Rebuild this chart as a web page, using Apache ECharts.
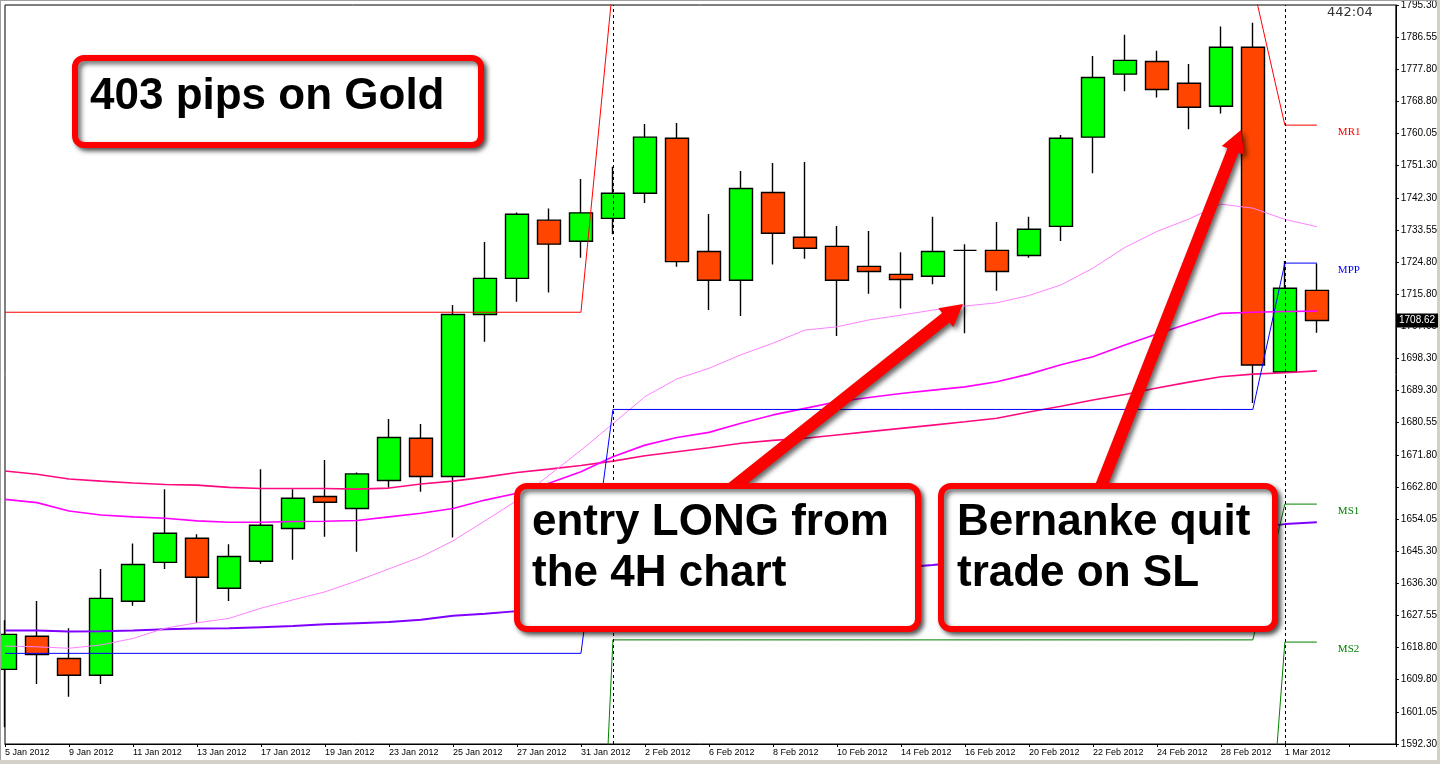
<!DOCTYPE html>
<html><head><meta charset="utf-8">
<script src="https://cdn.jsdelivr.net/npm/echarts@6/dist/echarts.min.js"></script>
<style>html,body{margin:0;padding:0;background:#fff;}#c{width:1440px;height:764px;}</style>
</head><body><div id="c"></div>
<script>
// ---- data ----
const dates = ['5 Jan 2012','6 Jan 2012','9 Jan 2012','10 Jan 2012','11 Jan 2012','12 Jan 2012','13 Jan 2012','16 Jan 2012','17 Jan 2012','18 Jan 2012',
  '19 Jan 2012','20 Jan 2012','23 Jan 2012','24 Jan 2012','25 Jan 2012','26 Jan 2012','27 Jan 2012','30 Jan 2012','31 Jan 2012','1 Feb 2012',
  '2 Feb 2012','3 Feb 2012','6 Feb 2012','7 Feb 2012','8 Feb 2012','9 Feb 2012','10 Feb 2012','13 Feb 2012','14 Feb 2012','15 Feb 2012',
  '16 Feb 2012','17 Feb 2012','20 Feb 2012','21 Feb 2012','22 Feb 2012','23 Feb 2012','24 Feb 2012','27 Feb 2012','28 Feb 2012','29 Feb 2012',
  '1 Mar 2012','2 Mar 2012'];
const opens  = [1612.8,1621.9,1615.8,1611.2,1631.5,1642.2,1648.8,1635.1,1642.5,1651.5,1660.3,1657.0,1664.7,1676.3,1665.8,1710.3,1720.2,1736.2,1730.4,1736.7,1743.6,1758.7,1727.6,1719.7,1743.8,1731.5,1729.0,1723.5,1721.3,1720.8,1727.9,1727.9,1726.5,1734.5,1759.0,1776.3,1779.8,1773.8,1767.5,1783.7,1694.5,1716.9];
const closes = [1622.4,1616.9,1611.2,1632.3,1641.6,1650.2,1638.1,1643.8,1652.4,1659.8,1658.7,1666.5,1676.5,1665.8,1710.3,1720.2,1737.8,1729.6,1738.2,1743.6,1759.0,1724.8,1719.7,1744.9,1732.6,1728.5,1719.7,1722.1,1719.9,1727.6,1727.9,1722.1,1733.7,1758.7,1775.4,1780.1,1772.1,1767.2,1783.7,1696.4,1717.5,1708.62];
const lows   = [1596.9,1608.8,1605.3,1608.8,1630.3,1640.4,1625.6,1631.6,1641.8,1642.9,1649.2,1645.1,1662.7,1661.6,1649.0,1702.8,1713.8,1716.3,1725.9,1732.3,1740.9,1723.4,1711.5,1709.9,1724.0,1725.6,1704.4,1716.0,1711.9,1718.6,1705.1,1716.8,1725.9,1730.5,1749.1,1771.6,1769.9,1761.2,1765.5,1686.0,1694.3,1705.3];
const highs  = [1626.3,1631.6,1624.1,1640.4,1647.4,1662.3,1649.9,1647.2,1667.8,1662.3,1670.3,1666.9,1681.6,1680.2,1712.9,1730.2,1738.3,1739.4,1747.5,1750.9,1762.6,1762.9,1737.9,1749.7,1751.9,1752.2,1734.6,1733.2,1727.4,1737.1,1729.6,1735.7,1737.1,1759.6,1781.3,1787.1,1782.7,1779.1,1789.4,1790.4,1725.0,1724.3];

const fastMA = [1619.2,1619.0,1618.6,1619.5,1621.3,1624.1,1625.6,1626.8,1629.6,1631.9,1634.1,1637.1,1640.4,1643.7,1648.1,1653.6,1659.2,1666.1,1673.0,1680.3,1687.7,1692.6,1695.5,1699.2,1702.4,1706.0,1706.9,1708.8,1710.1,1711.5,1712.6,1713.5,1715.5,1718.4,1723.0,1728.7,1733.1,1736.5,1740.6,1739.5,1736.4,1734.4];
const medMA  = [1659.5,1658.6,1656.3,1655.2,1654.7,1654.3,1653.6,1653.2,1653.2,1653.4,1653.5,1653.7,1654.7,1655.7,1657.0,1659.3,1661.2,1663.9,1667.1,1671.2,1674.4,1676.5,1677.9,1680.4,1682.7,1684.5,1686.3,1687.5,1688.6,1689.5,1690.4,1691.8,1693.9,1696.5,1698.7,1701.9,1704.9,1707.8,1710.6,1710.9,1711.1,1711.2];
const slowMA = [1667.3,1666.4,1665.1,1664.5,1664.0,1663.6,1663.4,1662.8,1662.5,1662.5,1662.5,1662.3,1662.6,1663.7,1664.5,1665.6,1666.9,1667.8,1668.8,1670.0,1671.5,1672.6,1673.7,1674.9,1675.7,1676.3,1677.2,1678.1,1679.0,1679.9,1680.8,1681.8,1683.5,1685.1,1686.8,1688.3,1690.1,1691.7,1693.2,1693.9,1694.3,1694.8];
const longMA = [1623.5,1623.5,1623.2,1623.3,1623.5,1623.8,1624.0,1624.1,1624.4,1624.7,1625.2,1625.5,1625.8,1626.4,1627.5,1628.1,1628.8,1629.9,1631.0,1632.4,1633.5,1634.6,1635.7,1636.5,1637.5,1638.4,1639.3,1640.1,1640.8,1641.5,1642.3,1643.4,1644.4,1645.3,1646.4,1647.4,1648.5,1649.4,1650.5,1651.6,1652.7,1653.2];

// monthly pivots: Jan, Feb, Mar (first bar index of each month)
const monthStartBar = [0, 19, 40];
const pivotR1 = [1710.9, 1801.0, 1762.3];
const pivotPP = [1617.2, 1684.2, 1724.4];
const pivotS1 = [1432.0, 1620.9, 1658.2];
const pivotS2 = [1338.0, 1504.0, 1620.3];
const separatorBars = [19, 40];

const yTickLabels = ['1592.30','1601.05','1609.80','1618.80','1627.55','1636.30','1645.30','1654.05','1662.80','1671.80','1680.55','1689.30',
  '1698.30','1707.05','1715.80','1724.80','1733.55','1742.30','1751.30','1760.05','1768.80','1777.80','1786.55','1795.30'];
const yMin = 1592.30, yMax = 1795.30;
const lastPrice = 1708.62;
const timerText = '442:04';

// ---- build ----
const monthOf = i => { let m = 0; monthStartBar.forEach((s, k) => { if (i >= s) m = k; }); return m; };
const pivotSeries = arr => dates.map((d, i) => [i, arr[monthOf(i)]]);
const lineOf = arr => arr.map((v, i) => [i, v]);

function arrowPts(bx, by, tx, ty, sw, hl, hw) {
  const dx = tx - bx, dy = ty - by, L = Math.hypot(dx, dy);
  const ux = dx / L, uy = dy / L, nx = -uy, ny = ux;
  const hx = tx - ux * hl, hy = ty - uy * hl;
  return [[bx + nx * sw, by + ny * sw], [hx + nx * sw, hy + ny * sw], [hx + nx * hw, hy + ny * hw], [tx, ty],
          [hx - nx * hw, hy - ny * hw], [hx - nx * sw, hy - ny * sw], [bx - nx * sw, by - ny * sw]];
}
const shadow = { shadowBlur: 5, shadowOffsetX: 3, shadowOffsetY: 3, shadowColor: 'rgba(0,0,0,0.6)' };
const bigFont = 'bold 44px "Liberation Sans", Arial, sans-serif';

function pivotLine(name, arr, color) {
  return {
    type: 'line', data: pivotSeries(arr), showSymbol: false, symbol: 'none', clip: true, z: 3,
    lineStyle: { color: color, width: 1 }, silent: true,
    endLabel: { show: true, formatter: name, color: color, fontFamily: '"Liberation Serif", serif', fontSize: 11, distance: 21, offset: [0, 7] }
  };
}
function maLine(arr, color, width) {
  return { type: 'line', data: lineOf(arr), showSymbol: false, symbol: 'none', clip: true, z: 3, silent: true,
           lineStyle: { color: color, width: width } };
}

const chart = echarts.init(document.getElementById('c'));
const baseGraphic = [
  { type: 'rect', shape: { x: 0, y: 0, width: 1440, height: 1 }, style: { fill: '#a0a0a0' }, z: 50, silent: true },
  { type: 'rect', shape: { x: 0, y: 0, width: 1, height: 764 }, style: { fill: '#a0a0a0' }, z: 50, silent: true },
  { type: 'rect', shape: { x: 0, y: 760, width: 1440, height: 4 }, style: { fill: '#d4d0c8' }, z: 50, silent: true },
  { type: 'rect', shape: { x: 1437, y: 0, width: 3, height: 764 }, style: { fill: '#d4d0c8' }, z: 50, silent: true },
  { type: 'text', x: 1327, y: 13, z: 60, silent: true,
    style: { text: timerText, font: '13px "DejaVu Sans", sans-serif', fill: '#333', verticalAlign: 'middle' } },

  { type: 'rect', shape: { x: 75, y: 58, width: 406, height: 87, r: 9 }, z: 100, silent: true,
    style: Object.assign({ fill: '#fff', stroke: '#ff0000', lineWidth: 6 }, shadow) },
  { type: 'text', x: 90, y: 97, z: 101, silent: true, style: { text: '403 pips on Gold', font: bigFont, fill: '#000', verticalAlign: 'middle' } },

  { type: 'polygon', shape: { points: arrowPts(732, 488, 963, 304, 6, 22, 12) }, z: 99, silent: true,
    style: Object.assign({ fill: '#ff0000' }, shadow) },
  { type: 'polygon', shape: { points: arrowPts(1100, 489, 1241, 130, 6, 22, 12) }, z: 99, silent: true,
    style: Object.assign({ fill: '#ff0000' }, shadow) },

  { type: 'rect', shape: { x: 517, y: 486, width: 401, height: 143, r: 10 }, z: 100, silent: true,
    style: Object.assign({ fill: '#fff', stroke: '#ff0000', lineWidth: 6 }, shadow) },
  { type: 'text', x: 532, y: 523, z: 101, silent: true, style: { text: 'entry LONG from', font: bigFont, fill: '#000', verticalAlign: 'middle' } },
  { type: 'text', x: 532, y: 574, z: 101, silent: true, style: { text: 'the 4H chart', font: bigFont, fill: '#000', verticalAlign: 'middle' } },

  { type: 'rect', shape: { x: 941, y: 486, width: 334, height: 143, r: 10 }, z: 100, silent: true,
    style: Object.assign({ fill: '#fff', stroke: '#ff0000', lineWidth: 6 }, shadow) },
  { type: 'text', x: 957, y: 523, z: 101, silent: true, style: { text: 'Bernanke quit', font: bigFont, fill: '#000', verticalAlign: 'middle' } },
  { type: 'text', x: 957, y: 574, z: 101, silent: true, style: { text: 'trade on SL', font: bigFont, fill: '#000', verticalAlign: 'middle' } }
];

chart.setOption({
  animation: false,
  backgroundColor: '#fff',
  grid: { left: 5, top: 5, right: 44, bottom: 20, show: true, borderColor: '#000', borderWidth: 1, backgroundColor: 'transparent' },
  xAxis: {
    type: 'value', min: 0, max: 1391 / 32, interval: 2,
    axisLine: { show: true, lineStyle: { color: '#000', width: 1 } },
    axisTick: { show: true, length: 3, lineStyle: { color: '#000' } },
    splitLine: { show: false },
    axisLabel: {
      color: '#000', fontSize: 9, fontFamily: '"Liberation Sans", Arial, sans-serif', align: 'left', margin: 4,
      formatter: v => { const i = Math.round(v); return (Math.abs(v - i) < 1e-6 && i % 2 === 0 && dates[i]) ? dates[i] : ''; }
    }
  },
  yAxis: [
    { type: 'value', min: yMin, max: yMax, position: 'right', show: false, splitLine: { show: false } },
    { type: 'category', data: yTickLabels, boundaryGap: false, position: 'right',
      axisLine: { show: true, lineStyle: { color: '#000' } },
      axisTick: { show: true, length: 3, lineStyle: { color: '#000' } },
      splitLine: { show: false },
      axisLabel: { interval: 0, color: '#000', fontSize: 10, fontFamily: '"Liberation Sans", Arial, sans-serif', margin: 5 } }
  ],
  series: [
    {
      type: 'candlestick', z: 2,
      data: opens.map((o, i) => [i, o, closes[i], lows[i], highs[i]]),
      barWidth: 23,
      itemStyle: { color: '#00ff00', color0: '#ff4500', borderColor: '#000', borderColor0: '#000', borderColorDoji: '#000', borderWidth: 1.4 },
      markLine: {
        silent: true, symbol: ['none', 'none'],
        data: separatorBars.map(b => ({ xAxis: b, lineStyle: { color: '#000', type: [3, 3], width: 1 }, label: { show: false } }))
      }
    },
    maLine(longMA, '#8000ff', 2),
    maLine(slowMA, '#ff0a80', 1.6),
    maLine(medMA, '#ff00ff', 1.6),
    maLine(fastMA, '#ff80ff', 1),
    pivotLine('MR1', pivotR1, '#ff0000'),
    pivotLine('MPP', pivotPP, '#0000ff'),
    pivotLine('MS1', pivotS1, '#008000'),
    pivotLine('MS2', pivotS2, '#008000')
  ],
  graphic: baseGraphic
});

// current-price tag placed on the price axis through the library's own scale
const priceY = chart.convertToPixel({ yAxisIndex: 0 }, lastPrice);
chart.setOption({
  graphic: baseGraphic.concat([
    { type: 'rect', shape: { x: 1397, y: priceY - 7, width: 41, height: 14 }, style: { fill: '#000' }, z: 70, silent: true },
    { type: 'text', x: 1399, y: priceY, z: 71, silent: true,
      style: { text: lastPrice.toFixed(2), font: '10px "Liberation Sans", Arial, sans-serif', fill: '#fff', verticalAlign: 'middle' } }
  ])
}, { replaceMerge: ['graphic'] });
</script>
</body></html>
